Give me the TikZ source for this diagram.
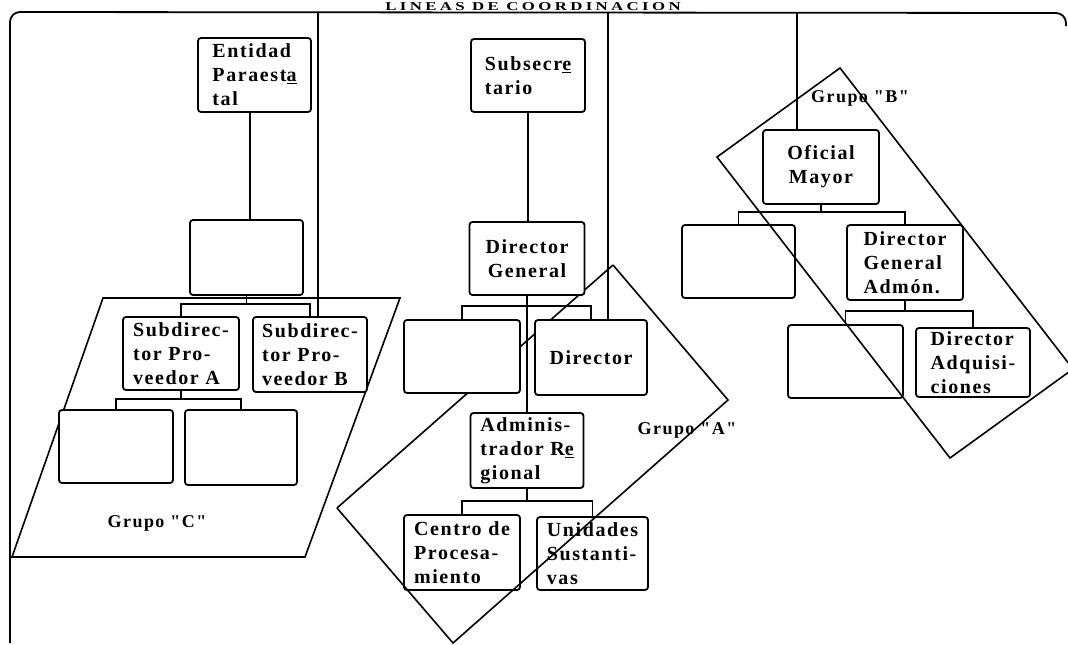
\documentclass[tikz,border=0pt]{standalone}
\usepackage{fontspec}
\setmainfont{Liberation Serif}
\newfontfamily\typew[LetterSpace=8]{Liberation Serif}
\newfontfamily\titlew[LetterSpace=20]{Liberation Serif}
\usetikzlibrary{calc}

\begin{document}
\begin{tikzpicture}[x=1pt,y=-1pt,
  box/.style={draw, line width=1.8pt, rounded corners=3pt, fill=white,
    align=left, inner sep=2pt,
    font=\typew\bfseries\fontsize{20}{24}\selectfont},
  cbox/.style={box, align=center},
  conn/.style={line width=1.9pt},
  coord/.style={line width=1.4pt},
  frame/.style={line width=1.8pt, rounded corners=10pt},
  grp/.style={line width=1.6pt, line join=miter},
  grplabel/.style={font=\typew\bfseries\fontsize{18}{20}\selectfont}
]
\useasboundingbox (0,0) rectangle (1068,645);

% outer frame and title
\draw[frame] (10,643) -- (10,12) -- (1066,13) -- (1066,26);
\node[font=\titlew\bfseries\fontsize{12}{12}\selectfont, anchor=base, inner sep=0pt,
      xscale=1.4] (title) at (533,10) {LINEAS DE COORDINACION};

% coordination lines from the top bar
\coordinate (k1) at (318,12);
\coordinate (k2) at (608,12);
\coordinate (k3) at (797,12);

% group outlines drawn behind the boxes
\coordinate (cTL) at (103,298);
\coordinate (cTR) at (400,298);
\coordinate (cBR) at (305,557);
\coordinate (cBL) at (12,557);
\draw[grp] (cTL) -- (cTR) -- (cBR) -- (cBL) -- cycle;

\coordinate (aT) at (613,265);
\coordinate (aR) at (728,400);
\coordinate (aB) at (453,643);
\coordinate (aL) at (337,508);
\draw[grp] (aL) -- (aT);

\coordinate (bT) at (840,68);
\coordinate (bR) at (1073,369);
\coordinate (bB) at (950,458);
\coordinate (bL) at (717,157);

% left column
\node[box, minimum width=113, minimum height=74] (ent) at (254.5,75) {Entidad\\Paraest\underline{a}\\tal};
\node[box, minimum width=113, minimum height=75] (m1) at (246.5,257.5) {};
\node[box, minimum width=116, minimum height=73] (sa) at (181,353.5) {Subdirec-\\tor Pro-\\veedor A};
\node[box, minimum width=114, minimum height=75] (sb) at (310,354.5) {Subdirec-\\tor Pro-\\veedor B};
\node[box, minimum width=114, minimum height=73] (c1) at (116,446.5) {};
\node[box, minimum width=112, minimum height=75] (c2) at (241,447.5) {};

% middle column
\node[box, minimum width=114, minimum height=73] (sub) at (528,75.5) {Subsecr\underline{e}\\tario};
\node[cbox, minimum width=115, minimum height=73] (dg) at (527,258.5) {Director\\General};
\node[box, minimum width=116, minimum height=73] (m2) at (462,356.5) {};
\node[box, minimum width=112, minimum height=75] (dir) at (591,357.5) {Director};
\node[box, minimum width=113, minimum height=75] (adm) at (527,450.5) {Adminis-\\trador R\underline{e}\\gional};
\node[box, minimum width=116, minimum height=75] (cen) at (462,552.5) {Centro de\\Procesa-\\miento};
\node[box, minimum width=111, minimum height=73] (uni) at (592.5,553.5) {Unidades\\Sustanti-\\vas};

% right column
\node[cbox, minimum width=116, minimum height=74] (om) at (821,167) {Oficial\\Mayor};
\node[box, minimum width=113, minimum height=73] (r1) at (738.5,261.5) {};
\node[box, minimum width=116, minimum height=75] (dga) at (905,262.5) {Director\\General\\Admón.};
\node[box, minimum width=115, minimum height=73] (r2) at (845.5,361.5) {};
\node[box, minimum width=114, minimum height=69] (daq) at (973,362.5) {Director\\Adquisi-\\ciones};

% coordination lines
\draw[coord] (k1) -- (k1 |- sb.north);
\draw[coord] (k2) -- (k2 |- dir.north);
\draw[coord] (k3) -- (k3 |- om.north);

% reporting lines
\draw[conn] (m1.north -| 250,0) coordinate (e1) -- (e1 |- ent.south);
\draw[conn] (sa.north) -- ++(0,-12) coordinate (j1) -| (sb.north);
\draw[conn] (m1.south) -- (m1.south |- j1);
\draw[conn] (c1.north) -- ++(0,-10) coordinate (j2) -| (c2.north);
\draw[conn] (sa.south) -- (sa.south |- j2);

\draw[conn] (sub.south) -- (sub.south |- dg.north);
\draw[conn] (m2.north) -- ++(0,-13) -| (dir.north);
\draw[conn] (dg.south) -- (adm.north);
\draw[conn] (cen.north) -- ++(0,-13) coordinate (j3) -| (uni.north);
\draw[conn] (adm.south) -- (adm.south |- j3);

\draw[conn] (r1.north) -- ++(0,-12) coordinate (j4) -| (dga.north);
\draw[conn] (om.south) -- (om.south |- j4);
\draw[conn] (r2.north) -- ++(0,-13) coordinate (j5) -| (daq.north);
\draw[conn] (dga.south) -- (dga.south |- j5);

% group outlines drawn over the boxes
\draw[grp] (aT) -- (aR) -- (aB) -- (aL);
\draw[grp] (bT) -- (bR) -- (bB) -- (bL) -- cycle;

% group labels
\node[grplabel] (gc) at (157,523) {Grupo "C"};
\node[grplabel] (ga) at (687,430) {Grupo "A"};
\node[grplabel] (gb) at (860,98) {Grupo "B"};
\end{tikzpicture}
\end{document}
